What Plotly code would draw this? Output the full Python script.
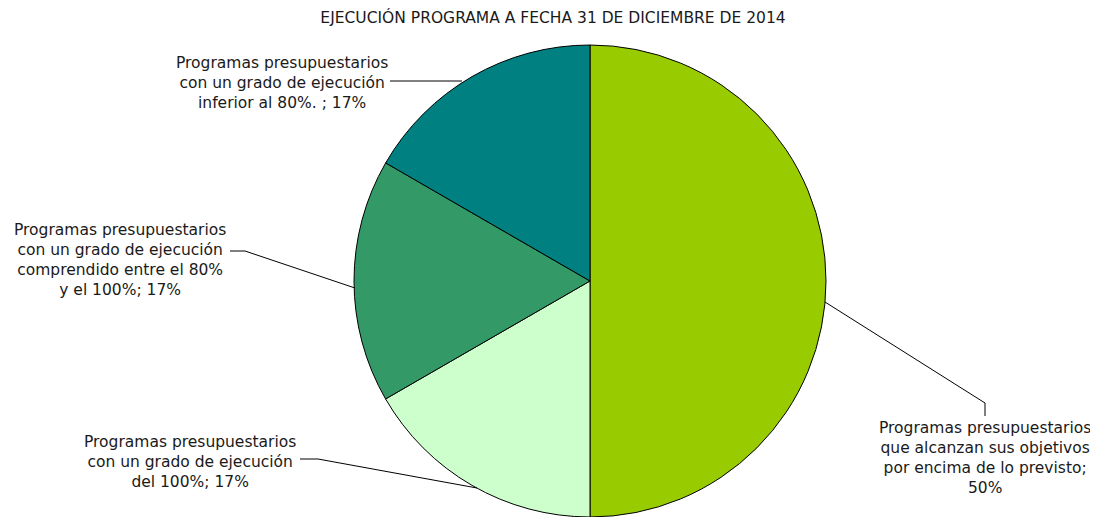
import plotly.graph_objects as go

W, H = 1098, 517
OFF = 8  # page body margin offset in the browser

title = "EJECUCIÓN PROGRAMA A FECHA 31 DE DICIEMBRE DE 2014"
categories = [
    "Programas presupuestarios<br>que alcanzan sus objetivos<br>por encima de lo previsto;<br>50%",
    "Programas presupuestarios<br>con un grado de ejecución<br>del 100%; 17%",
    "Programas presupuestarios<br>con un grado de ejecución<br>comprendido entre el 80%<br>y el 100%; 17%",
    "Programas presupuestarios<br>con un grado de ejecución<br>inferior al 80%. ; 17%",
]
values = [50, 16.67, 16.67, 16.66]
colors = ["#99CC00", "#CCFFCC", "#339966", "#008080"]

FONT = "DejaVu Sans, Verdana, sans-serif"


def px(x, y):
    """screen pixel -> paper coords"""
    return (x - OFF) / W, 1 - (y - OFF) / H


# pie geometry (screen pixels)
cx, cy, r = 590, 281, 236
x0, y1 = px(cx - r, cy - r)
x1, y0 = px(cx + r, cy + r)

fig = go.Figure(go.Pie(
    labels=categories,
    values=values,
    marker=dict(colors=colors, line=dict(color="#000000", width=1)),
    sort=False,
    direction="clockwise",
    rotation=0,
    textinfo="none",
    hoverinfo="label+percent",
    showlegend=False,
    domain=dict(x=[x0, x1], y=[max(y0, 0), y1]),
))

# label placements: (center x, top y) in screen pixels, and leader line points
label_pos = [
    (985, 417),
    (190, 431),
    (120, 219),
    (282, 52),
]
leaders = [
    [(985, 416), (985, 403), (825, 302)],
    [(300, 459), (318, 459), (477, 488)],
    [(230, 251), (245, 251), (355, 288)],
    [(390, 81), (462, 81)],
]

annotations = []
for txt, (x, y) in zip(categories, label_pos):
    ax, ay = px(x, y)
    annotations.append(dict(
        text=txt, x=ax, y=ay, xref="paper", yref="paper",
        xanchor="center", yanchor="top", align="center", showarrow=False,
        font=dict(family=FONT, size=15.5, color="#1a1a1a"),
    ))

shapes = []
for pts in leaders:
    path = ""
    for i, (x, y) in enumerate(pts):
        X, Y = px(x, y)
        path += ("M" if i == 0 else "L") + f"{X},{Y} "
    shapes.append(dict(type="path", path=path.strip(), xref="paper", yref="paper",
                       line=dict(color="#000000", width=1)))

tx, ty = px(553, 18)
fig.update_layout(
    width=W, height=H,
    margin=dict(l=0, r=0, t=0, b=0),
    paper_bgcolor="white", plot_bgcolor="white",
    title=dict(text=title, x=tx, y=ty, xref="container", yref="container",
               xanchor="center", yanchor="middle",
               font=dict(family=FONT, size=15.5, color="#1a1a1a")),
    annotations=annotations,
    shapes=shapes,
)

fig.write_html("out.html")
